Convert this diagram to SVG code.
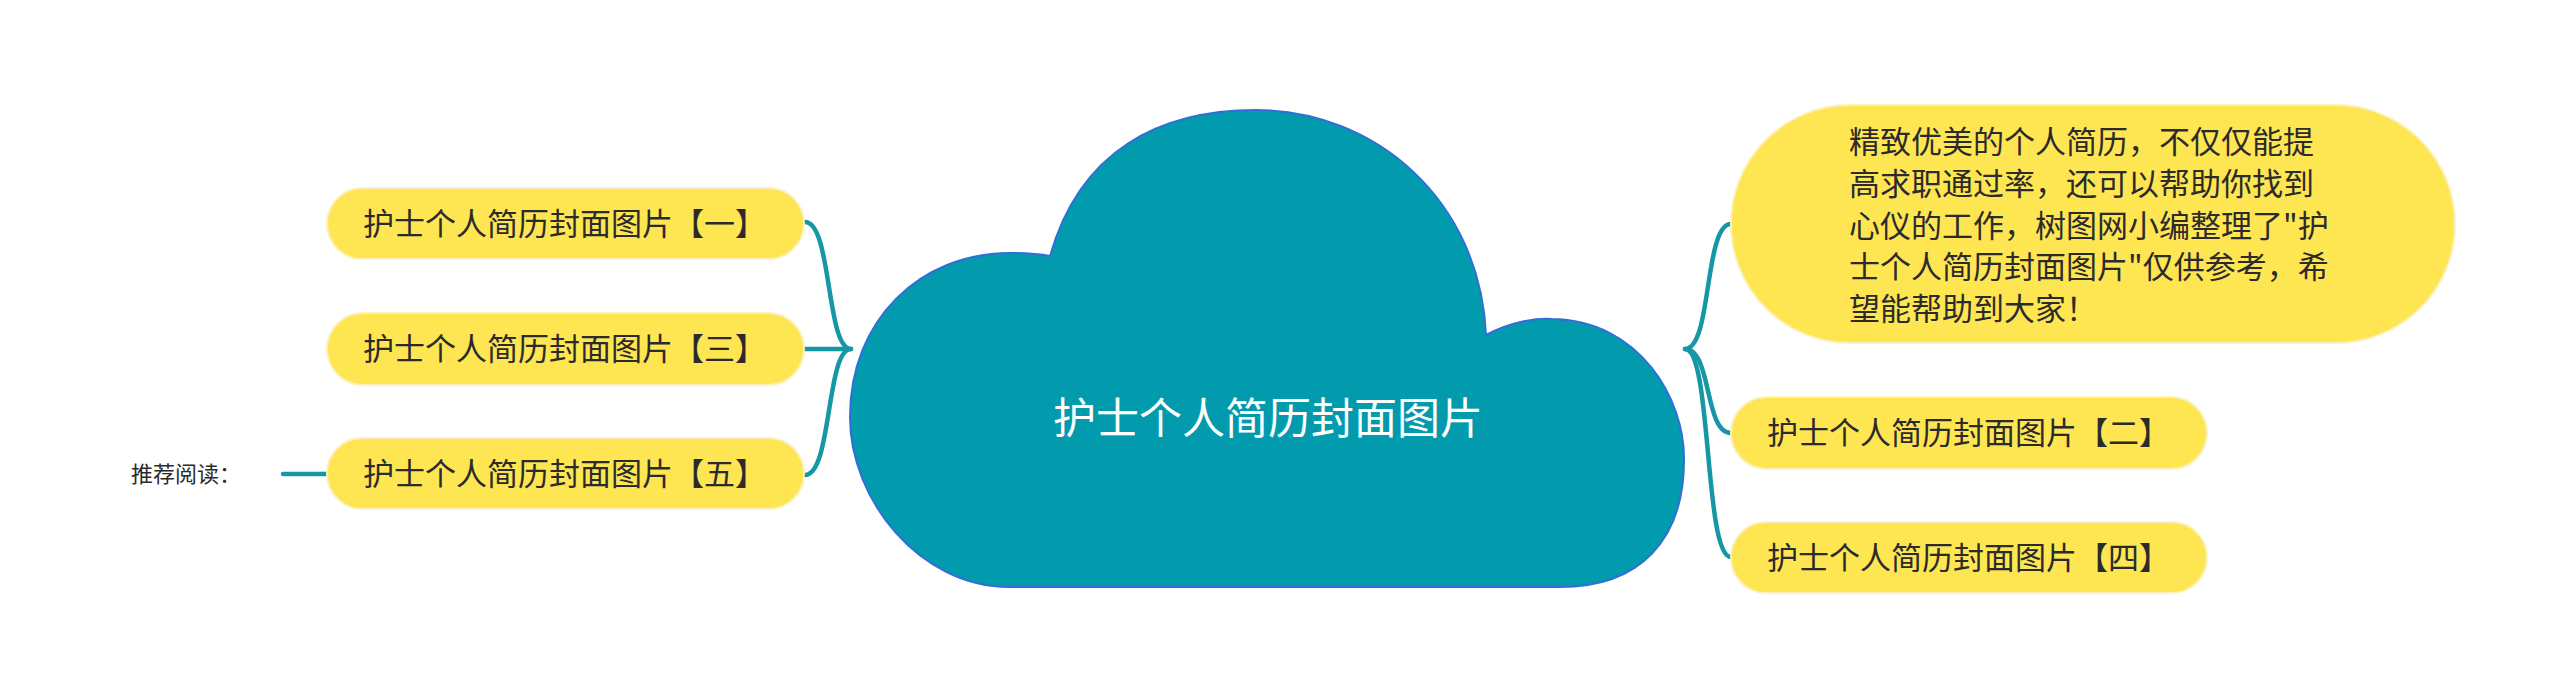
<svg xmlns="http://www.w3.org/2000/svg" width="2560" height="698" viewBox="0 0 2560 698">
<style>
.node{fill:#FEE552;stroke:#FDF0B8;stroke-width:2}
.t{font-family:"Noto Sans CJK SC","Noto Sans",sans-serif;font-size:31px;fill:#2b2b2b}
.conn{fill:none;stroke:#1597A5;stroke-width:4.5;stroke-linecap:round}
</style>
<rect width="2560" height="698" fill="#ffffff"/>
<g id="connectors">
<path class="conn" d="M805,222 C832,222 826,349 851,349"/>
<path class="conn" d="M805,349 L851,349" stroke-width="5.5"/>
<path class="conn" d="M805,475 C832,475 826,349 851,349"/>
<path class="conn" d="M1685,349 C1712,349 1704,224 1731,224"/>
<path class="conn" d="M1685,349 C1712,349 1704,433 1731,433"/>
<path class="conn" d="M1685,349 C1712,349 1704,557 1731,557"/>
<path class="conn" d="M283,474 L327,474"/>
</g>
<g id="root">
<path d="M1050,256 C1080,150 1160,110 1256,110 C1375,110 1480,200 1486,335 C1510,322 1535,318 1552,319 C1640,320 1685,400 1684,460 C1684,540 1640,587 1560,587 L1009,587 C920,587 850,500 850,417 C850,320 920,253 1010,253 C1025,253 1040,254 1050,256 Z" fill="#029BAE" stroke="#2F6FD6" stroke-width="2"/>
<text x="1268" y="434" text-anchor="middle" font-family="Noto Sans CJK SC, Noto Sans, sans-serif" font-size="43" fill="#ffffff">护士个人简历封面图片</text>
</g>
<g id="n1">
<rect class="node" x="327" y="188" width="477" height="71" rx="35.5"/>
<text class="t" x="363" y="235">护士个人简历封面图片【一】</text>
</g>
<g id="n3">
<rect class="node" x="327" y="313" width="477" height="72" rx="36"/>
<text class="t" x="363" y="360">护士个人简历封面图片【三】</text>
</g>
<g id="n5">
<rect class="node" x="327" y="438" width="477" height="71" rx="35.5"/>
<text class="t" x="363" y="485">护士个人简历封面图片【五】</text>
</g>
<g id="rec">
<text x="131" y="482" font-family="Noto Sans CJK SC, Noto Sans, sans-serif" font-size="22" fill="#2b2b2b">推荐阅读：</text>
</g>
<g id="desc">
<rect class="node" x="1731" y="105" width="724" height="238" rx="119"/>
<text class="t">
<tspan x="1849" y="153">精致优美的个人简历，不仅仅能提</tspan>
<tspan x="1849" y="195">高求职通过率，还可以帮助你找到</tspan>
<tspan x="1849" y="237">心仪的工作，树图网小编整理了"护</tspan>
<tspan x="1849" y="278">士个人简历封面图片"仅供参考，希</tspan>
<tspan x="1849" y="320">望能帮助到大家！</tspan>
</text>
</g>
<g id="n2">
<rect class="node" x="1731" y="397" width="476" height="72" rx="36"/>
<text class="t" x="1767" y="444">护士个人简历封面图片【二】</text>
</g>
<g id="n4">
<rect class="node" x="1731" y="522" width="476" height="71" rx="35.5"/>
<text class="t" x="1767" y="569">护士个人简历封面图片【四】</text>
</g>
</svg>
